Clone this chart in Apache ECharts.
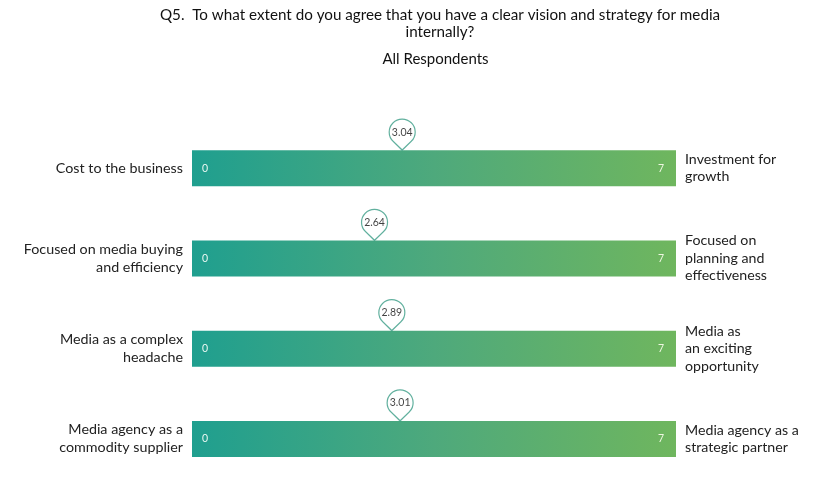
<!DOCTYPE html>
<html>
<head>
<meta charset="utf-8">
<script src="https://cdn.jsdelivr.net/npm/echarts@6/dist/echarts.min.js"></script>
<style>html,body{margin:0;padding:0;background:#fff;}#c{width:825px;height:484px;}</style>
</head>
<body>
<div id="c"></div>
<script>
const leftLabels = ['Cost to the business', 'Focused on media buying\nand efficiency', 'Media as a complex\nheadache', 'Media agency as a\ncommodity supplier'];
const rightLabels = ['Investment for\ngrowth', 'Focused on\nplanning and\neffectiveness', 'Media as\nan exciting\nopportunity', 'Media agency as a\nstrategic partner'];
const scores = [3.04, 2.64, 2.89, 3.01];
const scaleMin = 0;
const scaleMax = 7;

const FONT = 'Lato, "Open Sans", sans-serif';
const chart = echarts.init(document.getElementById('c'));
const pinPath = 'path://M10,24 L3,17.14 A10,10 0 1,1 17,17.14 Z';

chart.setOption({
  animation: false,
  title: [
    { text: 'Q5.  To what extent do you agree that you have a clear vision and strategy for media\ninternally?',
      left: 435, top: 2, textAlign: 'center',
      textStyle: { fontFamily: FONT, fontSize: 15.2, fontWeight: 'normal', color: '#111', lineHeight: 16.5 } },
    { text: 'All Respondents', left: 430.5, top: 47, textAlign: 'center',
      textStyle: { fontFamily: FONT, fontSize: 15, fontWeight: 'normal', color: '#111' } }
  ],
  grid: { left: 192, right: 149, top: 123, bottom: -2 },
  xAxis: { type: 'value', min: scaleMin, max: scaleMax, show: false },
  yAxis: [
    { type: 'category', data: leftLabels, inverse: true, position: 'left',
      axisLine: { show: false }, axisTick: { show: false }, splitLine: { show: false },
      axisLabel: { margin: 9, fontFamily: FONT, fontSize: 14.3, color: '#222', lineHeight: 18, align: 'right' } },
    { type: 'category', data: rightLabels, inverse: true, position: 'right',
      axisLine: { show: false }, axisTick: { show: false }, splitLine: { show: false },
      axisLabel: { margin: 9, fontFamily: FONT, fontSize: 14.2, color: '#222', lineHeight: 17.5, align: 'left' } }
  ],
  series: [
    { type: 'bar', barWidth: 36, barGap: '-100%', yAxisIndex: 0,
      data: leftLabels.map(() => scaleMax),
      itemStyle: { color: new echarts.graphic.LinearGradient(0, 0, 1, 0, [
        { offset: 0, color: '#1f9f8f' }, { offset: 0.5, color: '#4ea97c' }, { offset: 1, color: '#6fb65e' }]) },
      label: { show: true, position: 'insideLeft', distance: 10, formatter: () => String(scaleMin),
        color: '#e8f7f2', fontFamily: FONT, fontSize: 10.5 } },
    { type: 'bar', barWidth: 36, barGap: '-100%', yAxisIndex: 0,
      data: leftLabels.map(() => scaleMax),
      itemStyle: { color: 'rgba(0,0,0,0)' },
      label: { show: true, position: 'insideRight', distance: 12, formatter: () => String(scaleMax),
        color: '#eef6e0', fontFamily: FONT, fontSize: 10.5 } },
    { type: 'scatter', yAxisIndex: 0, z: 10,
      data: scores.map((v, i) => [v, i]),
      symbol: pinPath, symbolSize: [26, 31], symbolOffset: [0, -33.5],
      itemStyle: { color: '#fff', borderColor: '#3a9c86', borderWidth: 1.3 },
      label: { show: true, position: 'inside', offset: [0, -2.5], formatter: p => p.value[0].toFixed(2),
        color: '#111', fontFamily: FONT, fontSize: 10.5 } }
  ]
});
</script>
</body>
</html>
